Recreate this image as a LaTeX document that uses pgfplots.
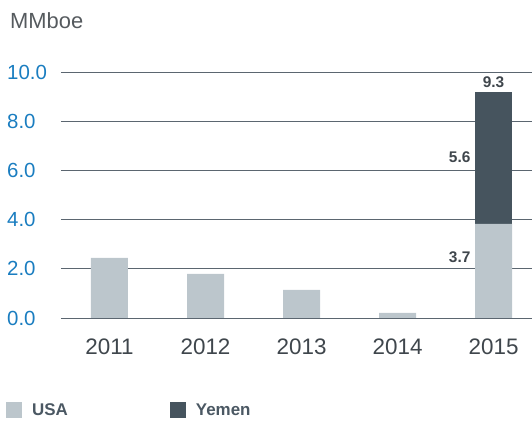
\documentclass[border=0pt]{standalone}
\usepackage{pgfplots}
\pgfplotsset{compat=1.18}
\usepackage{fontspec}
\setmainfont{Liberation Sans}
\definecolor{usa}{HTML}{BCC6CC}
\definecolor{yem}{HTML}{46545E}
\definecolor{tickblue}{HTML}{1A7DC0}
\definecolor{gridc}{HTML}{5B6670}
\definecolor{txt}{HTML}{3F464C}
\definecolor{unitc}{HTML}{555A5E}
\definecolor{legc}{HTML}{4B5863}
\begin{document}
\begin{tikzpicture}
\useasboundingbox (0,0) rectangle (532bp,421bp);
\node[anchor=base west, inner sep=0, text=unitc, font=\fontsize{22}{26}\selectfont] at (10bp,392bp) {MMboe};
\begin{axis}[
  at={(61bp,103bp)}, anchor=south west,
  scale only axis, width=471bp, height=246bp,
  xmin=-0.505, xmax=4.40, ymin=0, ymax=10,
  axis line style={draw=none},
  ybar stacked, bar width=37bp,
  xtick={0,1,2,3,4}, xticklabels={2011,2012,2013,2014,2015},
  ytick={0,2,4,6,8,10},
  yticklabels={0.0,2.0,4.0,6.0,8.0,10.0},
  major tick length=0pt,
  ymajorgrids, grid style={gridc, line width=0.8bp},
  yticklabel style={anchor=west, xshift=-54bp, inner sep=0pt, text=tickblue, font=\fontsize{20.5}{24}\selectfont},
  xticklabel style={anchor=center, yshift=-29bp, inner sep=0pt, text=txt, font=\fontsize{22.5}{26}\selectfont},
  legend columns=2,
  legend image code/.code={\fill[#1] (0bp,-8bp) rectangle (16bp,8bp);},
  legend style={at={(-0.1168,-0.374)}, anchor=west, draw=none, fill=none, inner sep=0pt,
    nodes={inner sep=0pt, text=legc, font=\fontsize{17}{20}\selectfont\bfseries},
    /tikz/every odd column/.append style={column sep=10bp},
    /tikz/every even column/.append style={column sep=102bp}},
]
\addplot[fill=usa, draw=none] coordinates {(0,2.44) (1,1.79) (2,1.14) (3,0.21) (4,3.83)};
\addlegendentry{USA}
\addplot[fill=yem, draw=none] coordinates {(0,0) (1,0) (2,0) (3,0) (4,5.36)};
\addlegendentry{Yemen}
\node[anchor=center, inner sep=0, text=txt, font=\fontsize{15.5}{18}\selectfont\bfseries] at (axis cs:4,9.19) [yshift=10bp] {9.3};
\node[anchor=east, inner sep=0, text=txt, font=\fontsize{15.5}{18}\selectfont\bfseries] at (axis cs:4,6.55) [xshift=-23bp] {5.6};
\node[anchor=east, inner sep=0, text=txt, font=\fontsize{15.5}{18}\selectfont\bfseries] at (axis cs:4,2.48) [xshift=-23bp] {3.7};
\end{axis}
\end{tikzpicture}
\end{document}
